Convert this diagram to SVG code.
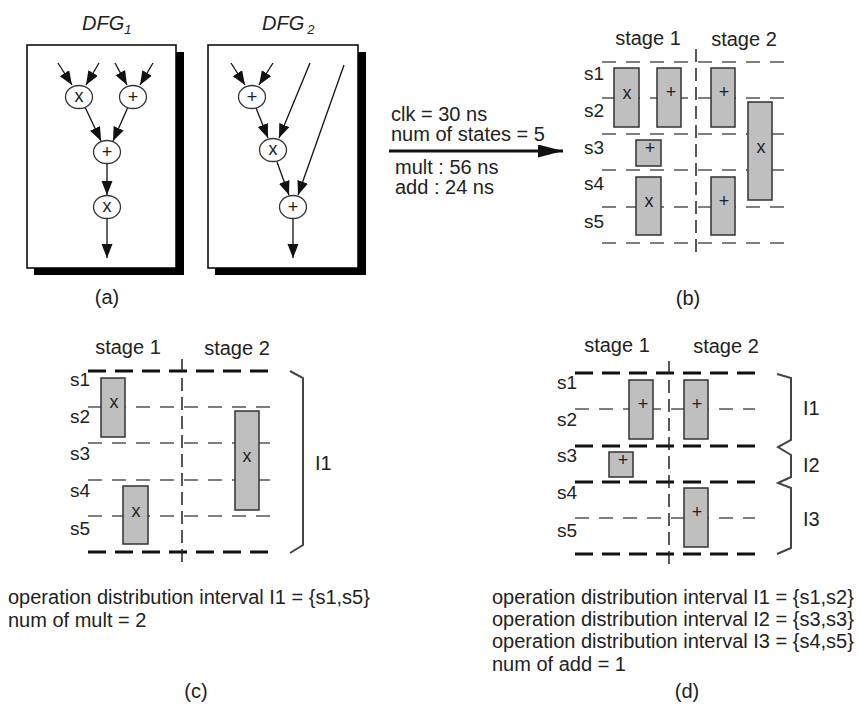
<svg xmlns="http://www.w3.org/2000/svg" width="861" height="704" viewBox="0 0 861 704">
<style>
text{font-family:"Liberation Sans",Arial,sans-serif;fill:#222}
.lbl{font-size:20px}
.s{font-size:19px}
.sym{font-size:18px;text-anchor:middle}
.mid{text-anchor:middle}
.edge{stroke:#111;stroke-width:1.3;fill:none}
.node{fill:#fff;stroke:#333;stroke-width:1.3}
.op{fill:#bfbfbf;stroke:#333;stroke-width:1.5}
.thin{stroke:#555;stroke-width:1.3;stroke-dasharray:14 10;fill:none}
.thick{stroke:#111;stroke-width:3;stroke-dasharray:18 9;fill:none}
.vert{stroke:#222;stroke-width:1.5;stroke-dasharray:13 6;fill:none}
.brace{stroke:#444;stroke-width:2;fill:none}
</style>
<defs>
<marker id="ah" markerUnits="userSpaceOnUse" markerWidth="15" markerHeight="12" refX="14" refY="5.5" orient="auto">
<path d="M0,0 L14,5.5 L0,11 z" fill="#111"/>
</marker>
<marker id="big" markerUnits="userSpaceOnUse" markerWidth="26" markerHeight="14" refX="25" refY="6.5" orient="auto">
<path d="M0,0 L25,6.5 L0,13 z" fill="#111"/>
</marker>
</defs>

<!-- (a) DFG1 -->
<g id="dfg1">
<rect x="34" y="52" width="150" height="223" fill="#000"/>
<rect x="27" y="45" width="149" height="223" fill="#fff" stroke="#000" stroke-width="1.5"/>
<text x="82" y="30" class="lbl" font-style="italic">DFG<tspan font-size="13" dy="4">1</tspan></text>
</g>
<g id="dfg2">
<rect x="215" y="52" width="151" height="223" fill="#000"/>
<rect x="208" y="45" width="150" height="223" fill="#fff" stroke="#000" stroke-width="1.5"/>
<text x="262" y="30" class="lbl" font-style="italic">DFG<tspan font-size="13" dx="3" dy="4">2</tspan></text>
</g>

<g id="connectors">
<path class="edge" marker-end="url(#ah)" d="M58,63 L72,85"/>
<path class="edge" marker-end="url(#ah)" d="M99,63 L86,85"/>
<path class="edge" marker-end="url(#ah)" d="M115,63 L127,85"/>
<path class="edge" marker-end="url(#ah)" d="M153,63 L140,85"/>
<path class="edge" marker-end="url(#ah)" d="M85,107 L101,141"/>
<path class="edge" marker-end="url(#ah)" d="M128,107 L113,141"/>
<path class="edge" marker-end="url(#ah)" d="M107,164 L107,195"/>
<path class="edge" marker-end="url(#ah)" d="M107,219 L107,258"/>
<path class="edge" marker-end="url(#ah)" d="M231,63 L245,85"/>
<path class="edge" marker-end="url(#ah)" d="M273,63 L259,85"/>
<path class="edge" marker-end="url(#ah)" d="M256,108 L268,138"/>
<path class="edge" marker-end="url(#ah)" d="M310,63 L279,138"/>
<path class="edge" marker-end="url(#ah)" d="M277,162 L289,195"/>
<path class="edge" marker-end="url(#ah)" d="M344,65 L298,195"/>
<path class="edge" marker-end="url(#ah)" d="M293,219 L293,258"/>
<path d="M389,151 L563,151" stroke="#111" stroke-width="3" fill="none" marker-end="url(#big)"/>
</g>

<g id="n1_mul"><ellipse class="node" cx="79" cy="97" rx="13.5" ry="11.5"/><text class="sym" x="79" y="102">x</text></g>
<g id="n1_add"><ellipse class="node" cx="133" cy="97" rx="13.5" ry="11.5"/><text class="sym" x="133" y="103">+</text></g>
<g id="n1_add2"><ellipse class="node" cx="107" cy="152" rx="13.5" ry="11.5"/><text class="sym" x="107" y="158">+</text></g>
<g id="n1_mul2"><ellipse class="node" cx="107" cy="207" rx="13.5" ry="11.5"/><text class="sym" x="107" y="212">x</text></g>
<g id="n2_add"><ellipse class="node" cx="252" cy="97" rx="13.5" ry="11.5"/><text class="sym" x="252" y="103">+</text></g>
<g id="n2_mul"><ellipse class="node" cx="273" cy="150" rx="13.5" ry="11.5"/><text class="sym" x="273" y="155">x</text></g>
<g id="n2_add2"><ellipse class="node" cx="293" cy="207" rx="13.5" ry="11.5"/><text class="sym" x="293" y="213">+</text></g>
<text class="lbl mid" x="107" y="304">(a)</text>

<!-- arrow labels -->
<g id="params">
<text class="lbl" x="391" y="121">clk = 30 ns</text>
<text class="lbl" x="391" y="141">num of states = 5</text>
<text class="lbl" x="395" y="174">mult : 56 ns</text>
<text class="lbl" x="395" y="194">add : 24 ns</text>
</g>

<!-- (b) -->
<g id="panel_b">
<text class="lbl mid" x="648" y="45">stage 1</text>
<text class="lbl mid" x="744" y="46">stage 2</text>
<path class="thin" d="M602,62H790M602,98H790M602,134H790M602,170H790M602,207H790M602,243H790"/>
<path class="vert" d="M696,49V255"/>
<text class="s" x="584" y="80">s1</text>
<text class="s" x="584" y="117">s2</text>
<text class="s" x="584" y="154">s3</text>
<text class="s" x="584" y="190">s4</text>
<text class="s" x="584" y="228">s5</text>
<g id="b_op1"><rect class="op" x="614" y="68" width="25" height="59"/><text class="sym" x="627" y="99">x</text></g>
<g id="b_op2"><rect class="op" x="657" y="68" width="24" height="59"/><text class="sym" x="671" y="98">+</text></g>
<g id="b_op3"><rect class="op" x="711" y="68" width="24" height="59"/><text class="sym" x="724" y="98">+</text></g>
<g id="b_op4"><rect class="op" x="748" y="102" width="24" height="98"/><text class="sym" x="761" y="153">x</text></g>
<g id="b_op5"><rect class="op" x="636" y="140" width="25" height="26"/><text class="sym" x="650" y="154">+</text></g>
<g id="b_op6"><rect class="op" x="636" y="177" width="25" height="58"/><text class="sym" x="649" y="207">x</text></g>
<g id="b_op7"><rect class="op" x="711" y="177" width="24" height="58"/><text class="sym" x="724" y="207">+</text></g>
<text class="lbl mid" x="688" y="305">(b)</text>
</g>

<!-- (c) -->
<g id="panel_c">
<text class="lbl mid" x="128" y="354">stage 1</text>
<text class="lbl mid" x="237" y="355">stage 2</text>
<path class="thin" d="M88,407H270M88,443H270M88,480H270M88,516H270"/>
<path class="thick" d="M88,371H270M88,552H270"/>
<path class="vert" d="M182,359V564"/>
<text class="s" x="70" y="386">s1</text>
<text class="s" x="70" y="423">s2</text>
<text class="s" x="70" y="460">s3</text>
<text class="s" x="70" y="497">s4</text>
<text class="s" x="70" y="535">s5</text>
<g id="c_op1"><rect class="op" x="101" y="378" width="24" height="59"/><text class="sym" x="114" y="408">x</text></g>
<g id="c_op2"><rect class="op" x="123" y="486" width="25" height="58"/><text class="sym" x="136" y="517">x</text></g>
<g id="c_op3"><rect class="op" x="235" y="411" width="24" height="99"/><text class="sym" x="247" y="462">x</text></g>
<path class="brace" d="M290,371L303,378V545L290,553"/>
<text class="lbl" x="315" y="470">I1</text>
<text class="lbl" x="8" y="604">operation distribution interval I1 = {s1,s5}</text>
<text class="lbl" x="8" y="627">num of mult = 2</text>
<text class="lbl mid" x="196" y="698">(c)</text>
</g>

<!-- (d) -->
<g id="panel_d">
<text class="lbl mid" x="617" y="352">stage 1</text>
<text class="lbl mid" x="726" y="353">stage 2</text>
<path class="thin" d="M575,409H755M575,518H755"/>
<path class="thick" d="M575,373H755M575,446H755M575,482H755M575,554H755"/>
<path class="vert" d="M669,361V566"/>
<text class="s" x="557" y="389">s1</text>
<text class="s" x="557" y="426">s2</text>
<text class="s" x="557" y="462">s3</text>
<text class="s" x="557" y="499">s4</text>
<text class="s" x="557" y="537">s5</text>
<g id="d_op1"><rect class="op" x="629" y="380" width="24" height="59"/><text class="sym" x="643" y="410">+</text></g>
<g id="d_op2"><rect class="op" x="684" y="380" width="24" height="59"/><text class="sym" x="697" y="410">+</text></g>
<g id="d_op3"><rect class="op" x="609" y="452" width="24" height="25"/><text class="sym" x="623" y="466">+</text></g>
<g id="d_op4"><rect class="op" x="684" y="488" width="24" height="59"/><text class="sym" x="697" y="518">+</text></g>
<path class="brace" d="M777,374L791,378V440L778,447L791,455V477L778,483L791,488V548L777,554"/>
<text class="lbl" x="803" y="415">I1</text>
<text class="lbl" x="803" y="472">I2</text>
<text class="lbl" x="803" y="526">I3</text>
<text class="lbl" x="492" y="604">operation distribution interval I1 = {s1,s2}</text>
<text class="lbl" x="492" y="626">operation distribution interval I2 = {s3,s3}</text>
<text class="lbl" x="492" y="648">operation distribution interval I3 = {s4,s5}</text>
<text class="lbl" x="492" y="671">num of add = 1</text>
<text class="lbl mid" x="687" y="698">(d)</text>
</g>
</svg>
